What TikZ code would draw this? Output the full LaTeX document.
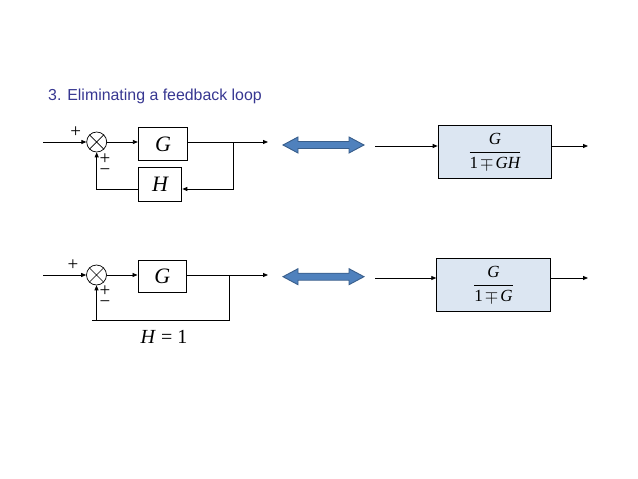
\documentclass[tikz,border=0pt]{standalone}
\usepackage{fontspec}
\setmainfont{Liberation Serif}
\newfontfamily\arialfont{Liberation Sans}
\usetikzlibrary{arrows.meta}
\definecolor{titleblue}{RGB}{55,55,145}
\definecolor{arrfill}{RGB}{79,129,189}
\definecolor{arrdraw}{RGB}{56,93,138}
\definecolor{boxfill}{RGB}{220,230,242}
\begin{document}
\begin{tikzpicture}[x=1pt,y=-1pt,
  conn/.style={line width=0.8pt},
  arr/.style={conn,-{Triangle[length=5pt,width=4pt]}},
  blk/.style={draw,line width=0.9pt,inner sep=0pt,font=\fontsize{22}{22}\selectfont\itshape},
  tfbox/.style={draw,line width=0.9pt,fill=boxfill,inner sep=0pt,minimum width=113.5pt,minimum height=53pt,font=\fontsize{17}{19}\selectfont},
  sumj/.style={draw,circle,line width=0.7pt,minimum size=20pt,inner sep=0pt},
  sign/.style={inner sep=0pt,text height=7pt,text depth=0pt,font=\fontsize{19}{19}\selectfont},
  signs/.style={inner sep=0pt,align=center,font=\fontsize{19}{11}\selectfont},
  dblarrow/.style={fill=arrfill,draw=arrdraw,line width=0.9pt,line join=miter}]
\useasboundingbox (0,0) rectangle (638,479);
% title
\node[anchor=west,inner sep=0pt,text=titleblue,font=\arialfont\fontsize{15.9}{18}\selectfont] (title) at (48,96.7) {3. Eliminating a feedback loop};
% ---------------- top left diagram
\coordinate (in1) at (43,142);
\node[sumj] (s1) at (96.7,142) {};
\draw[line width=0.7pt] (s1.north west) -- (s1.south east) (s1.north east) -- (s1.south west);
\node[blk,minimum width=49.4pt,minimum height=33.4pt] (g1) at (163,144) {G};
\node[blk,minimum width=43.7pt,minimum height=34.7pt] (h1) at (160,184.3) {H};
\coordinate (o1) at (268,142);
\coordinate (b1) at (233,142);
\coordinate (b1d) at (233,189);
\draw[arr] (in1) -- (s1.west);
\draw[arr] (s1.east) -- (s1.east -| g1.west);
\draw[arr] (g1.east |- o1) -- (o1);
\draw[arr] (b1) -- (b1d) -- (b1d -| h1.east);
\draw[arr] (h1.west |- b1d) -- (s1.south |- b1d) -- (s1.south);
\node[sign] (p1a) at (75.7,134.2) {+};
\node[signs] (pm1) at (105,164.5) {+\\\textminus};
% ---------------- bottom left diagram
\coordinate (in2) at (43,275);
\node[sumj] (s2) at (96.5,275) {};
\draw[line width=0.7pt] (s2.north west) -- (s2.south east) (s2.north east) -- (s2.south west);
\node[blk,minimum width=48.7pt,minimum height=32.7pt] (g2) at (162.3,276.3) {G};
\coordinate (o2) at (268,275);
\coordinate (b2) at (229,275);
\coordinate (b2d) at (229,320);
\coordinate (f2) at (92,320);
\draw[arr] (in2) -- (s2.west);
\draw[arr] (s2.east) -- (s2.east -| g2.west);
\draw[arr] (g2.east |- o2) -- (o2);
\draw[conn] (b2) -- (b2d) -- (f2);
\draw[arr] (s2.south |- b2d) -- (s2.south);
\node[sign] (p2a) at (73,266.5) {+};
\node[signs] (pm2) at (105,297) {+\\\textminus};
\node[inner sep=0pt,font=\fontsize{20}{20}\selectfont] (heq) at (164,337) {\textit{H} = 1};
% ---------------- double arrows
\draw[dblarrow] (283,145) -- (298,137) -- (298,141.5) -- (349,141.5) -- (349,137) -- (364,145)
  -- (349,153) -- (349,148.5) -- (298,148.5) -- (298,153) -- cycle;
\draw[dblarrow] (283,276.7) -- (298,268.7) -- (298,273.2) -- (349,273.2) -- (349,268.7) -- (364,276.7)
  -- (349,284.7) -- (349,280.2) -- (298,280.2) -- (298,284.7) -- cycle;
% ---------------- right boxes
\node[tfbox] (t1) at (494.9,151.7) {$\displaystyle\frac{\textit{G}}{\textrm{1}\mkern2mu{\mp}\mkern2mu\textit{GH}}$};
\coordinate (i3) at (375,146);
\coordinate (o3) at (588,146);
\draw[arr] (i3) -- (i3 -| t1.west);
\draw[arr] (t1.east |- o3) -- (o3);
\node[tfbox] (t2) at (493.5,284.7) {$\displaystyle\frac{\textit{G}}{\textrm{1}\mkern2mu{\mp}\mkern2mu\textit{G}}$};
\coordinate (i4) at (375,278);
\coordinate (o4) at (588,278);
\draw[arr] (i4) -- (i4 -| t2.west);
\draw[arr] (t2.east |- o4) -- (o4);
\end{tikzpicture}
\end{document}
